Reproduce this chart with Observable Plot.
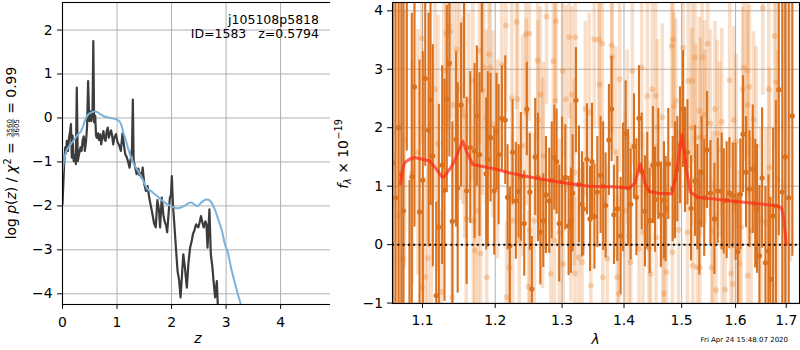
<!DOCTYPE html>
<html><head><meta charset="utf-8">
<script src="https://cdn.jsdelivr.net/npm/d3@7"></script>
<script src="https://cdn.jsdelivr.net/npm/@observablehq/plot@0.6"></script>
<style>
body{margin:0;background:#fff;}
#wrap{position:relative;width:800px;height:350px;overflow:hidden;background:#fff;}
#left{position:absolute;left:0;top:0;width:340px;height:350px;}
#right{position:absolute;left:330px;top:0;width:470px;height:350px;}
</style></head><body>
<div id="wrap"><div id="left"></div><div id="right"></div></div>
<script>
// ---------- left panel: log p(z) ----------
const zTicks = [0, 1, 2, 3, 4];
const logpTicks = [-4, -3, -2, -1, 0, 1, 2];
const pzZ = [0.000,0.015,0.030,0.050,0.065,0.080,0.100,0.120,0.140,0.155,0.170,0.185,0.205,0.225,0.245,0.262,0.280,0.300,0.330,0.350,0.370,0.390,0.410,0.430,0.450,0.470,0.490,0.510,0.530,0.550,0.565,0.580,0.600,0.615,0.630,0.650,0.670,0.690,0.710,0.730,0.750,0.770,0.790,0.810,0.830,0.850,0.870,0.890,0.910,0.930,0.950,0.980,1.010,1.040,1.070,1.100,1.120,1.150,1.180,1.200,1.230,1.260,1.275,1.290,1.305,1.330,1.360,1.390,1.410,1.430,1.450,1.470,1.500,1.530,1.560,1.590,1.620,1.650,1.680,1.710,1.740,1.770,1.790,1.820,1.850,1.870,1.900,1.920,1.950,1.970,1.990,2.005,2.025,2.050,2.080,2.110,2.140,2.165,2.190,2.215,2.245,2.280,2.310,2.340,2.370,2.390,2.420,2.450,2.490,2.520,2.540,2.570,2.590,2.620,2.640,2.660,2.695,2.720,2.750,2.770,2.800,2.830,2.860];
const pzLog = [-1.96,-1.50,-1.05,-0.67,-0.80,-0.52,-0.75,-0.45,-0.30,-0.14,-0.90,-0.40,-0.98,-0.85,-1.05,0.69,-0.98,-0.85,-0.67,-0.75,-0.50,-0.42,-0.75,-0.55,-0.22,0.84,-0.07,0.15,-0.07,0.10,1.75,-0.10,0.05,-0.40,-0.45,-0.35,-0.50,-0.37,-0.60,-0.42,-0.30,-0.48,-0.52,-0.30,-0.22,-0.45,-0.35,-0.28,-0.40,-0.60,-0.45,-0.37,-0.55,-0.62,-0.75,-0.35,-0.55,-0.82,-0.90,-0.98,-1.13,-0.85,-0.67,0.42,-0.98,-1.10,-1.28,-1.15,-1.30,-1.25,-1.36,-1.13,-1.50,-1.66,-1.55,-1.81,-2.00,-2.19,-2.40,-2.49,-1.87,-2.10,-2.49,-1.81,-2.20,-2.34,-2.45,-2.60,-2.10,-1.81,-1.75,-1.32,-1.96,-2.40,-2.95,-3.48,-3.70,-4.08,-3.60,-3.10,-3.40,-3.86,-3.30,-2.95,-2.80,-2.65,-2.55,-2.42,-2.49,-2.35,-2.23,-2.40,-2.49,-2.35,-2.42,-2.95,-2.08,-3.10,-3.40,-3.71,-4.08,-3.71,-4.60];
const smoothZ = [0.00,0.03,0.08,0.14,0.21,0.28,0.33,0.38,0.42,0.47,0.52,0.58,0.63,0.70,0.76,0.84,0.92,0.98,1.04,1.08,1.12,1.16,1.20,1.25,1.31,1.37,1.44,1.50,1.56,1.62,1.68,1.74,1.80,1.87,1.93,2.00,2.07,2.14,2.22,2.30,2.36,2.42,2.48,2.55,2.62,2.68,2.73,2.80,2.86,2.92,2.98,3.03,3.09,3.15,3.21,3.27,3.32];
const smoothLog = [-1.25,-0.95,-0.72,-0.62,-0.50,-0.38,-0.32,-0.18,-0.03,0.08,0.12,0.15,0.14,0.08,0.04,0.01,-0.01,-0.03,-0.07,-0.16,-0.35,-0.50,-0.68,-0.88,-1.05,-1.18,-1.32,-1.48,-1.62,-1.66,-1.72,-1.78,-1.85,-1.92,-1.97,-2.01,-2.05,-2.05,-2.01,-1.95,-1.92,-1.97,-2.00,-1.92,-1.86,-1.86,-1.92,-2.10,-2.32,-2.55,-2.88,-3.05,-3.40,-3.70,-3.98,-4.24,-4.50];

// ---------- right panel: spectrum ----------
const lamTicks = [1.1, 1.2, 1.3, 1.4, 1.5, 1.6, 1.7];
const fluxTicks = [-1, 0, 1, 2, 3, 4];
const darkLam = [
1.0615,1.0650,1.0690,1.0725,1.0752,1.0795,1.0830,1.0860,1.0895,1.0961,
1.1004,1.1036,1.1080,1.1106,1.1137,1.1182,1.1217,1.1262,1.1293,1.1324,
1.1360,1.1400,1.1451,1.1473,1.1520,1.1560,1.1597,1.1647,1.1707,1.1739,
1.1777,1.1810,1.1871,1.1894,1.1933,1.1986,1.2019,1.2049,1.2096,1.2145,
1.2179,1.2212,1.2252,1.2300,1.2340,1.2374,1.2424,1.2463,1.2508,1.2538,
1.2589,1.2630,1.2666,1.2711,1.2751,1.2802,1.2840,1.2880,1.2915,1.2956,
1.3000,1.3050,1.3102,1.3138,1.3165,1.3217,1.3265,1.3313,1.3335,1.3393,
1.3442,1.3474,1.3513,1.3560,1.3613,1.3655,1.3695,1.3749,1.3794,1.3832,
1.3888,1.3943,1.3985,1.4027,1.4070,1.4112,1.4168,1.4209,1.4253,1.4300,
1.4355,1.4395,1.4436,1.4493,1.4528,1.4587,1.4632,1.4685,1.4715,1.4762,
1.4840,1.4880,1.4922,1.4970,1.5024,1.5060,1.5104,1.5170,1.5242,1.5285,
1.5321,1.5363,1.5410,1.5462,1.5525,1.5600,1.5662,1.5737,1.5775,1.5830,
1.5882,1.5946,1.6000,1.6043,1.6093,1.6144,1.6202,1.6268,1.6332,1.6380,
1.6417,1.6463,1.6516,1.6582,1.6642,1.6680,1.6735,1.6790,1.6849,1.6920,
1.6980,1.7050,1.7125];
const darkFlux = [
1.40,0.80,2.00,1.20,0.58,4.60,-1.40,1.16,2.70,0.56,
1.10,2.84,1.96,2.47,1.52,-0.87,0.30,1.36,0.93,2.49,
3.10,0.40,1.80,0.97,2.39,4.80,0.92,1.66,1.60,2.20,
1.54,4.50,1.21,1.46,1.83,0.92,1.93,1.54,2.16,2.13,
0.81,-0.02,1.58,0.75,0.91,1.16,0.36,2.32,0.90,-0.76,
1.50,1.15,0.21,0.41,0.85,0.75,1.10,1.49,1.42,0.36,
1.08,1.15,0.32,0.41,0.88,2.47,1.03,0.69,0.61,1.46,
0.44,1.42,0.48,0.90,1.19,1.00,0.67,1.79,2.32,0.51,
0.61,0.15,0.98,1.90,0.97,0.69,1.68,0.81,2.16,1.25,
0.57,0.92,0.41,1.36,0.77,1.38,0.51,0.76,0.61,1.38,
0.95,1.10,1.29,1.70,2.32,1.45,1.58,0.62,1.09,0.81,
0.38,1.24,0.80,1.62,0.88,0.44,0.92,0.91,0.74,0.76,
0.88,0.84,0.73,-0.12,0.86,1.89,1.24,0.95,1.29,0.70,
0.61,-0.19,1.14,-0.31,-0.11,-0.59,0.49,0.66,2.65,0.90,
1.50,0.80,2.20];
const darkErr = [
6.0,5.5,4.5,4.0,3.6,3.0,2.5,2.8,2.4,2.6,
2.2,1.5,2.0,1.8,1.9,1.6,2.1,1.7,1.9,1.6,
1.6,1.7,1.5,1.8,1.4,2.3,1.6,1.3,1.5,1.2,
1.4,1.9,1.3,1.5,1.1,1.1,1.0,1.2,0.9,1.1,
0.9,1.0,0.9,1.0,0.8,1.1,0.9,0.8,1.0,0.9,
1.0,1.1,0.9,0.8,1.0,0.9,1.0,0.9,0.9,1.0,
1.1,0.9,0.85,0.9,1.0,0.9,1.0,0.9,0.8,0.95,
0.9,1.0,0.9,0.95,1.0,1.1,0.9,0.95,0.9,0.85,
0.9,1.0,1.1,0.9,1.0,0.95,0.9,1.0,0.9,1.0,
0.95,1.0,0.9,1.0,0.9,0.95,0.9,1.0,0.9,0.95,
0.9,1.0,0.9,1.0,1.0,0.9,0.9,0.9,0.95,0.9,
0.9,0.95,1.0,1.0,0.9,0.95,0.9,1.0,0.9,1.0,
0.95,0.9,1.0,1.0,0.95,1.0,0.95,1.0,1.1,1.1,
1.1,1.2,1.2,1.3,1.3,1.4,1.5,1.8,2.5,4.5,
6.0,5.5,2.4];
const lightLam = [
1.0620,1.0680,1.0744,1.0766,1.0865,1.0939,1.0991,1.0996,1.1036,1.1070,
1.1116,1.1164,1.1204,1.1249,1.1284,1.1317,1.1352,1.1372,1.1399,1.1416,
1.1461,1.1498,1.1544,1.1568,1.1591,1.1627,1.1683,1.1690,1.1711,1.1753,
1.1777,1.1791,1.1815,1.1838,1.1872,1.1879,1.1909,1.1929,1.1967,1.2034,
1.2096,1.2154,1.2164,1.2204,1.2242,1.2252,1.2311,1.2326,1.2351,1.2400,
1.2449,1.2457,1.2489,1.2500,1.2507,1.2575,1.2625,1.2632,1.2666,1.2701,
1.2711,1.2761,1.2827,1.2864,1.2880,1.2895,1.2904,1.2956,1.3008,1.3016,
1.3060,1.3113,1.3138,1.3154,1.3192,1.3200,1.3208,1.3260,1.3313,1.3367,
1.3430,1.3456,1.3511,1.3586,1.3597,1.3641,1.3649,1.3723,1.3794,1.3802,
1.3860,1.3889,1.3915,1.3927,1.4016,1.4056,1.4083,1.4112,1.4141,1.4253,
1.4299,1.4321,1.4397,1.4424,1.4453,1.4483,1.4540,1.4549,1.4570,1.4657,
1.4666,1.4685,1.4727,1.4822,1.4834,1.4845,1.4863,1.4893,1.4942,1.5025,
1.5104,1.5122,1.5182,1.5194,1.5203,1.5242,1.5254,1.5285,1.5322,1.5331,
1.5340,1.5370,1.5414,1.5425,1.5475,1.5525,1.5549,1.5568,1.5611,1.5630,
1.5649,1.5693,1.5737,1.5746,1.5800,1.5888,1.5913,1.5946,1.5965,1.6009,
1.6073,1.6104,1.6137,1.6157,1.6221,1.6230,1.6234,1.6267,1.6298,1.6351,
1.6396,1.6495,1.6529,1.6595,1.6648,1.6662,1.6763,1.6796,1.6829,1.6950,
1.7080];
const lightFlux = [
1.50,0.50,-0.24,1.80,1.23,1.58,3.53,-0.73,-0.55,-0.23,
0.72,2.66,1.73,-0.81,2.98,3.62,3.75,3.65,-0.90,2.39,
3.34,2.66,2.29,2.20,0.44,2.46,2.81,0.41,-0.10,0.58,
3.32,-0.15,2.64,3.03,2.17,-0.56,3.26,3.03,2.06,1.46,
3.08,3.75,-0.90,-0.39,2.51,0.41,3.81,2.49,0.07,1.69,
3.60,2.26,-0.72,3.61,0.24,0.41,3.15,2.13,2.57,1.05,
1.52,3.90,-0.50,3.14,0.07,2.46,3.82,0.21,2.97,-0.33,
2.49,3.55,0.72,2.57,1.23,-0.49,3.55,-0.22,-0.30,2.32,
2.26,-0.70,3.51,3.51,2.74,3.44,-0.56,-0.24,3.41,3.21,
1.58,-0.56,-0.84,2.83,0.58,1.83,0.15,-0.30,2.97,-0.07,
3.03,0.21,2.54,-0.07,-0.50,2.66,2.55,0.12,2.01,2.18,
-0.22,-0.84,-0.47,3.40,-0.13,3.51,2.37,2.46,0.25,3.37,
0.21,2.80,2.00,2.80,-0.36,3.20,1.83,-0.39,2.29,-0.39,
1.84,3.21,2.23,1.83,3.44,2.07,-0.39,0.24,2.32,-0.78,
1.90,1.62,2.10,-0.02,-0.77,2.81,-0.49,-0.67,2.13,1.76,
-0.33,0.30,2.66,3.03,2.98,2.39,-0.53,2.70,0.24,2.14,
1.69,0.41,4.05,0.38,2.66,1.32,3.57,2.78,1.12,1.00,
2.20];
const lightErr = [
4.0,3.5,2.0,2.2,1.9,2.1,1.8,1.5,1.7,1.6,
2.0,1.9,2.2,1.4,1.7,1.6,1.8,1.5,1.3,2.0,
1.7,1.9,1.6,2.1,1.8,1.5,1.7,1.6,1.4,1.9,
1.6,1.5,1.8,1.7,1.5,1.4,1.6,1.8,1.6,1.7,
1.6,1.5,1.3,1.6,1.8,1.5,1.5,1.7,1.6,1.9,
1.4,1.6,1.3,1.5,1.7,1.5,1.4,1.7,1.5,1.8,
1.6,1.5,1.4,1.6,1.5,1.7,1.4,1.6,1.5,1.4,
1.6,1.4,1.7,1.5,1.6,1.3,1.5,1.5,1.6,1.5,
1.7,1.4,1.5,1.5,1.7,1.4,1.5,1.6,1.5,1.6,
1.8,1.4,1.3,1.6,1.7,1.5,1.6,1.5,1.6,1.5,
1.4,1.7,1.6,1.5,1.4,1.5,1.7,1.6,1.5,1.6,
1.5,1.3,1.5,1.4,1.6,1.5,1.6,1.4,1.7,1.5,
1.6,1.5,1.7,1.4,1.5,1.5,1.6,1.5,1.6,1.5,
1.7,1.4,1.6,1.5,1.4,1.6,1.5,1.7,1.5,1.3,
1.6,1.5,1.6,1.5,1.4,1.5,1.4,1.5,1.6,1.5,
1.6,1.5,1.4,1.6,1.5,1.6,1.5,1.4,1.6,1.5,
1.7,1.6,1.5,1.6,1.6,1.7,1.9,2.0,2.2,4.5,
2.5];
const modelLam = [1.0714,1.0740,1.0766,1.0830,1.0895,1.1000,1.1093,1.1180,1.1263,1.1300,1.1380,1.1430,1.1490,1.1544,1.1600,1.1683,1.1800,1.2015,1.2200,1.2404,1.2700,1.3013,1.3435,1.3800,1.4095,1.4179,1.4230,1.4277,1.4320,1.4351,1.4437,1.4581,1.4816,1.4880,1.4933,1.5005,1.5050,1.5085,1.5157,1.5296,1.5600,1.5888,1.6200,1.6534,1.6834,1.6904,1.6950,1.6985,1.7000];
const modelFlux = [1.04,1.28,1.40,1.46,1.49,1.46,1.43,1.30,1.15,1.18,1.32,1.43,1.62,1.77,1.58,1.37,1.34,1.29,1.23,1.18,1.12,1.06,1.00,0.99,0.97,1.05,1.22,1.38,1.22,1.05,0.91,0.88,0.87,1.10,1.40,1.88,1.60,1.30,0.90,0.81,0.78,0.75,0.72,0.69,0.66,0.63,0.45,0.15,0.00];

// ---------- build tables ----------
const pz = pzZ.map((z, i) => ({z, v: pzLog[i]}));
const smooth = smoothZ.map((z, i) => ({z, v: smoothLog[i]}));
const dark = darkLam.map((l, i) => ({l, f: darkFlux[i], lo: darkFlux[i] - darkErr[i], hi: darkFlux[i] + darkErr[i]}));
const light = lightLam.map((l, i) => ({l, f: lightFlux[i], lo: lightFlux[i] - lightErr[i], hi: lightFlux[i] + lightErr[i]}));
const model = modelLam.map((l, i) => ({l, f: modelFlux[i]}));

const FONT = "DejaVu Sans";
const GRID = "#b0b0b0";
const DARK = "#d9711f";
const LIGHT = "#e8822e";

const left = Plot.plot({
  width: 340, height: 350,
  marginLeft: 62, marginRight: 7, marginTop: 2, marginBottom: 46,
  style: {fontFamily: FONT, fontSize: "13.9px", background: "white", color: "black", overflow: "visible"},
  x: {domain: [0, 4.97], ticks: zTicks, tickFormat: d3.format("d"), tickSize: 4.9, tickPadding: 8, label: null},
  y: {domain: [-4.243, 2.627], ticks: logpTicks, tickFormat: d3.format("d"), tickSize: 4.9, tickPadding: 5, label: null},
  marks: [
    Plot.gridX(zTicks, {stroke: GRID, strokeOpacity: 1, strokeWidth: 1}),
    Plot.gridY(logpTicks, {stroke: GRID, strokeOpacity: 1, strokeWidth: 1}),
    Plot.line(pz, {x: "z", y: "v", stroke: "#3c3c3c", strokeWidth: 2.2, strokeLinejoin: "round", clip: true}),
    Plot.line(smooth, {x: "z", y: "v", stroke: "#7db2da", strokeWidth: 2, curve: "catmull-rom", clip: true}),
    Plot.frame({stroke: "black", strokeWidth: 1.1})
  ]
});
document.getElementById("left").appendChild(left);

const right = Plot.plot({
  width: 470, height: 350,
  marginLeft: 62, marginRight: 1, marginTop: 2, marginBottom: 47,
  style: {fontFamily: FONT, fontSize: "13.9px", background: "white", color: "black", overflow: "visible"},
  x: {type: "log", domain: [1.0612, 1.7272], ticks: lamTicks, tickFormat: d => d.toFixed(1), tickSize: 4.9, tickPadding: 7, label: null},
  y: {domain: [-1.007, 4.142], ticks: fluxTicks, tickFormat: d3.format("d"), tickSize: 4.9, tickPadding: 4.5, label: null},
  marks: [
    Plot.gridX(lamTicks, {stroke: GRID, strokeOpacity: 1, strokeWidth: 1}),
    Plot.gridY(fluxTicks, {stroke: GRID, strokeOpacity: 1, strokeWidth: 1}),
    Plot.ruleX(light, {x: "l", y1: "lo", y2: "hi", stroke: LIGHT, strokeOpacity: 0.26, strokeWidth: 3.6, clip: true}),
    Plot.dot(light, {x: "l", y: "f", r: 2.9, fill: LIGHT, fillOpacity: 0.32, stroke: "none", clip: true}),
    Plot.ruleX(dark, {x: "l", y1: "lo", y2: "hi", stroke: DARK, strokeWidth: 2.1, clip: true}),
    Plot.dot(dark, {x: "l", y: "f", r: 2.6, fill: DARK, stroke: "none", clip: true}),
    Plot.ruleY([0], {stroke: "black", strokeWidth: 2, strokeDasharray: "2,3.3"}),
    Plot.line(model, {x: "l", y: "f", stroke: "#ff2a1a", strokeOpacity: 0.72, strokeWidth: 3, strokeLinejoin: "round", clip: true}),
    Plot.frame({stroke: "black", strokeWidth: 1.1})
  ]
});
document.getElementById("right").appendChild(right);

// text measurement via canvas
const ctx = document.createElement("canvas").getContext("2d");
function tw(s, size, italic) {
  ctx.font = `${italic ? "italic " : ""}${size}px "DejaVu Sans"`;
  return ctx.measureText(s).width;
}
function txt(sel, x, y, s, size, opts = {}) {
  const t = sel.append("text").attr("x", x).attr("y", y)
    .attr("fill", "black").attr("text-anchor", opts.anchor || "start")
    .attr("xml:space", "preserve")
    .style("font-family", FONT).style("font-size", size + "px")
    .style("white-space", "pre");
  if (opts.italic) t.style("font-style", "italic");
  t.text(s);
  return t;
}

// ---------- left annotations ----------
const L = d3.select(left);
txt(L, 319, 24, "j105108p5818", 12.5, {anchor: "end"});
txt(L, 319, 37.8, "ID=1583   z=0.5794", 12.5, {anchor: "end"});
txt(L, 197.8, 343, "z", 13.9, {anchor: "middle", italic: true});

(function () {
  const S = 13.9, s2 = 9.7, sf = 7;
  const parts = [["log ", false], ["p", true], ["(", false], ["z", true], [") / ", false], ["χ", true]];
  let u = 0;
  const g = L.append("g");
  for (const [s, it] of parts) { txt(g, u, 0, s, S, {italic: it}); u += tw(s, S, it); }
  txt(g, u + 0.5, -5.5, "2", s2); u += tw("2", s2) + 0.5;
  txt(g, u, 0, " = ", S); u += tw(" = ", S);
  const fw = tw("3560", sf);
  txt(g, u + 1, -4.3, "3560", sf);
  txt(g, u + 1, 3.4, "3605", sf);
  g.append("line").attr("x1", u + 0.5).attr("x2", u + fw + 1.5).attr("y1", -3).attr("y2", -3)
    .attr("stroke", "black").attr("stroke-width", 0.6);
  u += fw + 2;
  txt(g, u, 0, " = 0.99", S); u += tw(" = 0.99", S);
  g.attr("transform", `translate(16,${153 + u / 2}) rotate(-90)`);
})();

// ---------- right annotations ----------
const R = d3.select(right);
txt(R, (62 + 469) / 2, 344, "λ", 13.9, {anchor: "middle", italic: true});
txt(R, 458, 341.5, "Fri Apr 24 15:48:07 2020", 7, {anchor: "end"});
(function () {
  const S = 13.9, s2 = 9.7;
  const g = R.append("g");
  let u = 0;
  txt(g, u, 0, "f", S, {italic: true}); u += tw("f", S, true);
  txt(g, u, 3, "λ", s2, {italic: true}); u += tw("λ", s2, true);
  txt(g, u, 0, " × 10", S); u += tw(" × 10", S);
  txt(g, u + 0.5, -5.5, "−19", s2); u += tw("−19", s2) + 0.5;
  g.attr("transform", `translate(17.5,${154 + u / 2}) rotate(-90)`);
})();
</script>
</body></html>
